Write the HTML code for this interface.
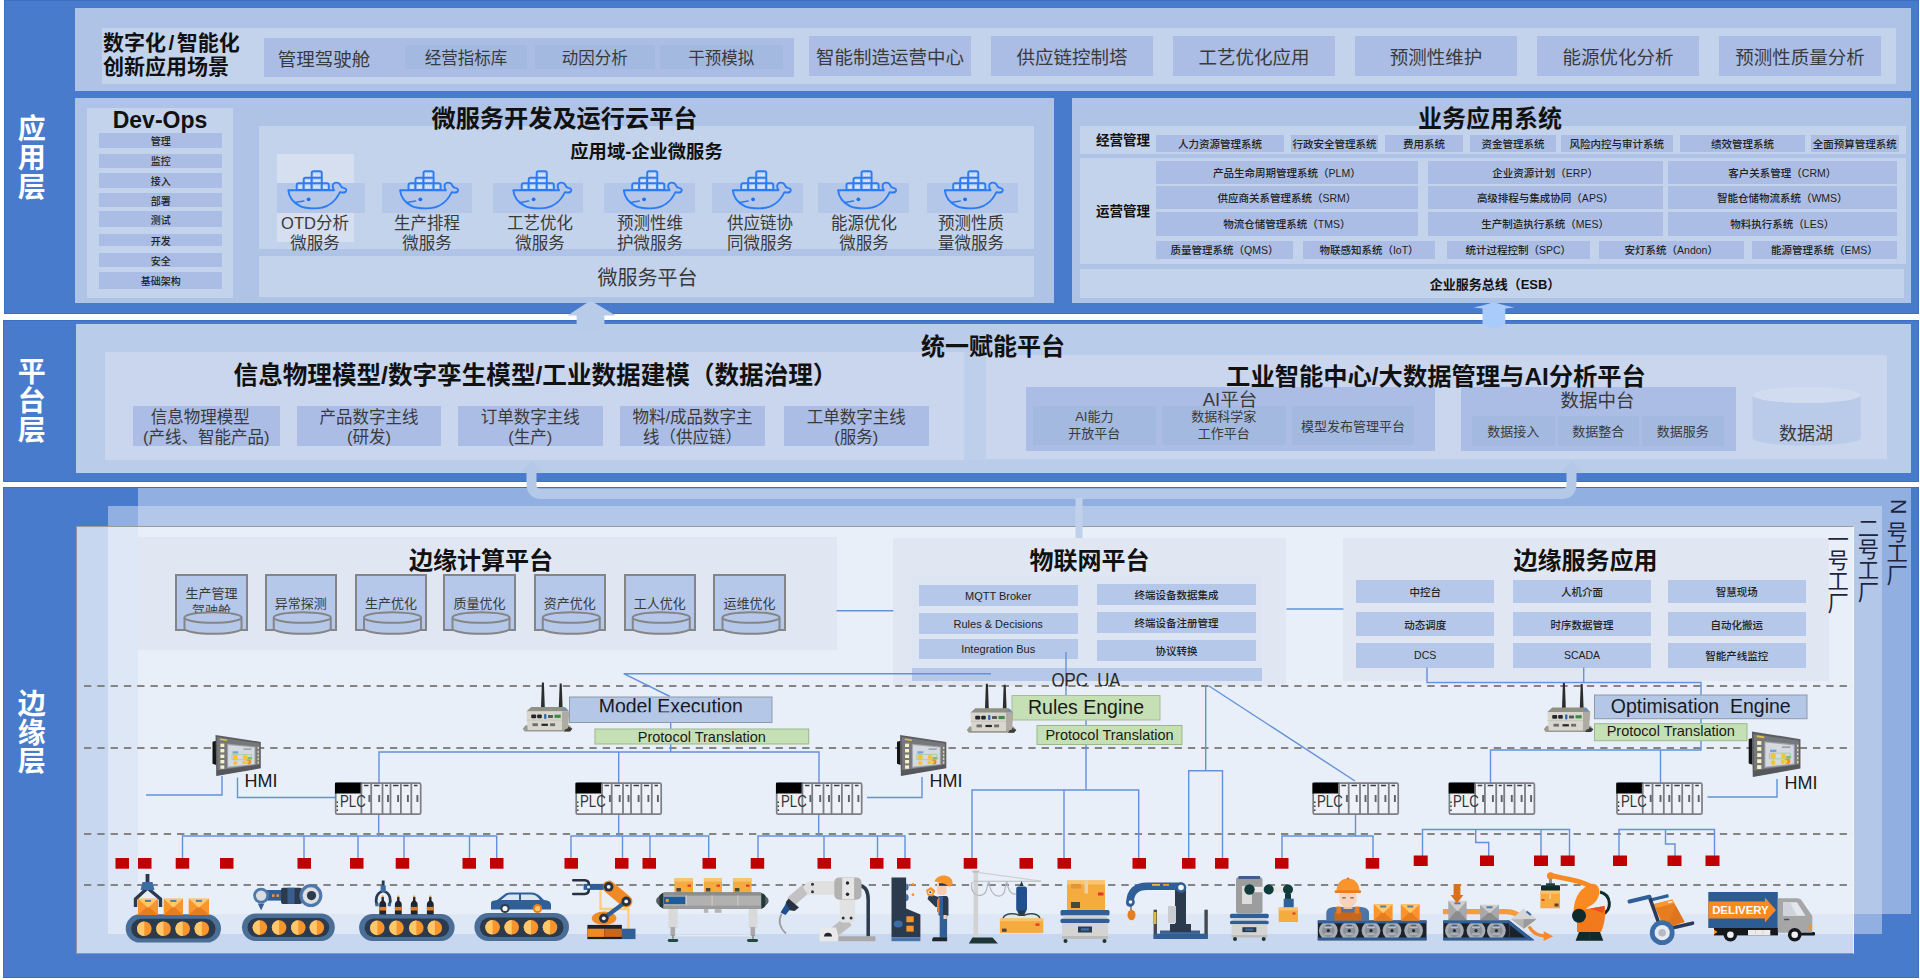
<!DOCTYPE html>
<html lang="zh-CN"><head><meta charset="utf-8"><title>智能制造架构</title>
<style>
html,body{margin:0;padding:0;background:#fff;}
#c{position:relative;width:1920px;height:980px;overflow:hidden;background:#fff;font-family:"Liberation Sans","Noto Sans CJK SC",sans-serif;color:#111;}
#c>div{position:absolute;}
.b{display:flex;align-items:center;justify-content:center;text-align:center;white-space:nowrap;}
.bold{font-weight:700;font-family:"Liberation Sans","Noto Sans CJK SC",sans-serif;}
.g{color:#3a3a3a;}
.sm{color:#222;font-weight:500;}
.en{color:#1a1a1a;}
.vt{writing-mode:vertical-rl;font-size:21.3px;line-height:24px;width:24px;color:#1f2440;white-space:nowrap;}
.plc{font-family:"Liberation Sans",sans-serif;font-size:17px;color:#333;line-height:18px;transform:scaleX(0.78);transform-origin:0 0;}
#ov{position:absolute;left:0;top:0;}
</style></head>
<body><div id="c">
<div style="left:4px;top:0px;width:1915px;height:314.3px;background:#497bcc;box-shadow:inset 0 0 0 1px #3d6ec6;"></div>
<div style="left:3px;top:320.3px;width:1916px;height:162px;background:#497bcc;box-shadow:inset 0 0 0 1px #3d6ec6;"></div>
<div style="left:3px;top:487.1px;width:1916px;height:490.9px;background:#497bcc;box-shadow:inset 0 0 0 1px #3d6ec6;"></div>
<div class="bold" style="left:13.8px;top:114.2px;width:30px;writing-mode:vertical-rl;font-size:28px;line-height:30px;letter-spacing:1.3px;color:#fff;white-space:nowrap;z-index:2;">应用层</div>
<div class="bold" style="left:13.8px;top:357.2px;width:30px;writing-mode:vertical-rl;font-size:28px;line-height:30px;letter-spacing:1.1px;color:#fff;white-space:nowrap;z-index:2;">平台层</div>
<div class="bold" style="left:13.8px;top:689.2px;width:30px;writing-mode:vertical-rl;font-size:28px;line-height:30px;letter-spacing:0.9px;color:#fff;white-space:nowrap;z-index:2;">边缘层</div>
<div style="left:75px;top:8px;width:1836px;height:83px;background:#aec3e5;"></div>
<div style="left:102px;top:28px;width:1794px;height:56px;background:#c3d3ec;"></div>
<div class="bold" style="left:103px;top:31px;width:150px;font-size:21px;line-height:24px;color:#111;">数字化<span style="padding:0 2.5px">/</span>智能化<br>创新应用场景</div>
<div style="left:264px;top:38px;width:530px;height:39px;background:#abbde5;"></div>
<div class="b g" style="left:264px;top:27.5px;width:120px;height:60px;font-size:18.5px;z-index:2;">管理驾驶舱</div>
<div class="b g" style="left:405px;top:45px;width:122px;height:24px;background:#a3b9e0;font-size:16.5px;">经营指标库</div>
<div class="b g" style="left:534.5px;top:45px;width:120.5px;height:24px;background:#a3b9e0;font-size:16.5px;">动因分析</div>
<div class="b g" style="left:660px;top:45px;width:122.5px;height:24px;background:#a3b9e0;font-size:16.5px;">干预模拟</div>
<div class="b g" style="left:809px;top:36px;width:162px;height:40px;background:#abbde5;font-size:18.5px;">智能制造运营中心</div>
<div class="b g" style="left:991px;top:36px;width:162px;height:40px;background:#abbde5;font-size:18.5px;">供应链控制塔</div>
<div class="b g" style="left:1173px;top:36px;width:162px;height:40px;background:#abbde5;font-size:18.5px;">工艺优化应用</div>
<div class="b g" style="left:1355px;top:36px;width:162px;height:40px;background:#abbde5;font-size:18.5px;">预测性维护</div>
<div class="b g" style="left:1537px;top:36px;width:162px;height:40px;background:#abbde5;font-size:18.5px;">能源优化分析</div>
<div class="b g" style="left:1719px;top:36px;width:162px;height:40px;background:#abbde5;font-size:18.5px;">预测性质量分析</div>
<div style="left:75px;top:98px;width:979px;height:205px;background:#aec3e5;"></div>
<div style="left:87px;top:107.5px;width:146px;height:190px;background:#c3d3ec;"></div>
<div class="b bold" style="left:90px;top:90px;width:140px;height:60px;font-size:23px;z-index:2;">Dev-Ops</div>
<div class="b sm" style="left:99.3px;top:132.7px;width:122.7px;height:15px;background:#abbde5;font-size:10px;">管理</div>
<div class="b sm" style="left:99.3px;top:154px;width:122.7px;height:13.5px;background:#abbde5;font-size:10px;">监控</div>
<div class="b sm" style="left:99.3px;top:173px;width:122.7px;height:14.7px;background:#abbde5;font-size:10px;">接入</div>
<div class="b sm" style="left:99.3px;top:192.8px;width:122.7px;height:14.6px;background:#abbde5;font-size:10px;">部署</div>
<div class="b sm" style="left:99.3px;top:211.2px;width:122.7px;height:15.8px;background:#abbde5;font-size:10px;">测试</div>
<div class="b sm" style="left:99.3px;top:233.7px;width:122.7px;height:12.8px;background:#abbde5;font-size:10px;">开发</div>
<div class="b sm" style="left:99.3px;top:253.2px;width:122.7px;height:14.2px;background:#abbde5;font-size:10px;">安全</div>
<div class="b sm" style="left:99.3px;top:272.3px;width:122.7px;height:16.4px;background:#abbde5;font-size:10px;">基础架构</div>
<div class="b bold" style="left:164.5px;top:86.5px;width:800px;height:60px;font-size:24.2px;z-index:2;">微服务开发及运行云平台</div>
<div style="left:259px;top:125.8px;width:775px;height:123.4px;background:#c3d3ec;"></div>
<div class="b bold" style="left:246.5px;top:119.5px;width:800px;height:60px;font-size:18.3px;z-index:2;">应用域-企业微服务</div>
<div style="left:259px;top:255.8px;width:775px;height:41.6px;background:#c3d3ec;"></div>
<div class="b g" style="left:247.5px;top:246.5px;width:800px;height:60px;font-size:20px;z-index:2;">微服务平台</div>
<div style="left:277.2px;top:154px;width:76.8px;height:87.6px;background:#d5dff0;"></div>
<div style="left:276.7px;top:182.7px;width:88.2px;height:30.3px;background:#b4c7e8;"></div>
<div class="b g" style="left:255px;top:213.2px;width:120px;height:40px;font-size:16.5px;line-height:20px;">OTD分析<br>微服务</div>
<div style="left:382.4px;top:182.7px;width:89.6px;height:30.3px;background:#b4c7e8;"></div>
<div class="b g" style="left:367px;top:213.2px;width:120px;height:40px;font-size:16.5px;line-height:20px;">生产排程<br>微服务</div>
<div style="left:492.8px;top:182.7px;width:90.2px;height:30.3px;background:#b4c7e8;"></div>
<div class="b g" style="left:480px;top:213.2px;width:120px;height:40px;font-size:16.5px;line-height:20px;">工艺优化<br>微服务</div>
<div style="left:603.5px;top:182.7px;width:91px;height:30.3px;background:#b4c7e8;"></div>
<div class="b g" style="left:590px;top:213.2px;width:120px;height:40px;font-size:16.5px;line-height:20px;">预测性维<br>护微服务</div>
<div style="left:712.4px;top:182.7px;width:91.1px;height:30.3px;background:#b4c7e8;"></div>
<div class="b g" style="left:700px;top:213.2px;width:120px;height:40px;font-size:16.5px;line-height:20px;">供应链协<br>同微服务</div>
<div style="left:818.2px;top:182.7px;width:90.5px;height:30.3px;background:#b4c7e8;"></div>
<div class="b g" style="left:804px;top:213.2px;width:120px;height:40px;font-size:16.5px;line-height:20px;">能源优化<br>微服务</div>
<div style="left:926.6px;top:182.7px;width:91.3px;height:30.3px;background:#b4c7e8;"></div>
<div class="b g" style="left:911px;top:213.2px;width:120px;height:40px;font-size:16.5px;line-height:20px;">预测性质<br>量微服务</div>
<div style="left:1072px;top:97.5px;width:839px;height:205.5px;background:#aec3e5;"></div>
<div class="b bold" style="left:1090px;top:86.5px;width:800px;height:60px;font-size:24px;z-index:2;">业务应用系统</div>
<div style="left:1080px;top:126.4px;width:826px;height:27.3px;background:#c3d3ec;"></div>
<div class="b bold" style="left:1083px;top:109px;width:80px;height:60px;font-size:13.5px;z-index:2;">经营管理</div>
<div class="b sm" style="left:1156px;top:134.9px;width:128px;height:16.8px;background:#abbde5;font-size:10.5px;">人力资源管理系统</div>
<div class="b sm" style="left:1291px;top:134.9px;width:87px;height:16.8px;background:#abbde5;font-size:10.5px;">行政安全管理系统</div>
<div class="b sm" style="left:1385px;top:134.9px;width:78px;height:16.8px;background:#abbde5;font-size:10.5px;">费用系统</div>
<div class="b sm" style="left:1470px;top:134.9px;width:86px;height:16.8px;background:#abbde5;font-size:10.5px;">资金管理系统</div>
<div class="b sm" style="left:1561px;top:134.9px;width:111.5px;height:16.8px;background:#abbde5;font-size:10.5px;">风险内控与审计系统</div>
<div class="b sm" style="left:1680px;top:134.9px;width:125px;height:16.8px;background:#abbde5;font-size:10.5px;">绩效管理系统</div>
<div class="b sm" style="left:1810.7px;top:134.9px;width:88.3px;height:16.8px;background:#abbde5;font-size:10.5px;">全面预算管理系统</div>
<div style="left:1080px;top:158.4px;width:826px;height:105.6px;background:#c3d3ec;"></div>
<div class="b bold" style="left:1083px;top:180px;width:80px;height:60px;font-size:13.5px;z-index:2;">运营管理</div>
<div class="b sm" style="left:1156px;top:160.6px;width:261.7px;height:23.4px;background:#abbde5;font-size:10.5px;">产品生命周期管理系统（PLM）</div>
<div class="b sm" style="left:1427.7px;top:160.6px;width:234.9px;height:23.4px;background:#abbde5;font-size:10.5px;">企业资源计划（ERP）</div>
<div class="b sm" style="left:1668px;top:160.6px;width:228.6px;height:23.4px;background:#abbde5;font-size:10.5px;">客户关系管理（CRM）</div>
<div class="b sm" style="left:1156px;top:186px;width:261.7px;height:22.5px;background:#abbde5;font-size:10.5px;">供应商关系管理系统（SRM）</div>
<div class="b sm" style="left:1427.7px;top:186px;width:234.9px;height:22.5px;background:#abbde5;font-size:10.5px;">高级排程与集成协同（APS）</div>
<div class="b sm" style="left:1668px;top:186px;width:228.6px;height:22.5px;background:#abbde5;font-size:10.5px;">智能仓储物流系统（WMS）</div>
<div class="b sm" style="left:1156px;top:211.5px;width:261.7px;height:24.1px;background:#abbde5;font-size:10.5px;">物流仓储管理系统（TMS）</div>
<div class="b sm" style="left:1427.7px;top:211.5px;width:234.9px;height:24.1px;background:#abbde5;font-size:10.5px;">生产制造执行系统（MES）</div>
<div class="b sm" style="left:1668px;top:211.5px;width:228.6px;height:24.1px;background:#abbde5;font-size:10.5px;">物料执行系统（LES）</div>
<div class="b sm" style="left:1156px;top:241px;width:137px;height:17.5px;background:#abbde5;font-size:10.5px;">质量管理系统（QMS）</div>
<div class="b sm" style="left:1303px;top:241px;width:132px;height:17.5px;background:#abbde5;font-size:10.5px;">物联感知系统（IoT）</div>
<div class="b sm" style="left:1447px;top:241px;width:142.5px;height:17.5px;background:#abbde5;font-size:10.5px;">统计过程控制（SPC）</div>
<div class="b sm" style="left:1599px;top:241px;width:144.5px;height:17.5px;background:#abbde5;font-size:10.5px;">安灯系统（Andon）</div>
<div class="b sm" style="left:1752px;top:241px;width:144.6px;height:17.5px;background:#abbde5;font-size:10.5px;">能源管理系统（EMS）</div>
<div style="left:1080px;top:268.8px;width:823.5px;height:29px;background:#c3d3ec;"></div>
<div class="b bold" style="left:1095px;top:253.5px;width:800px;height:60px;font-size:13px;z-index:2;">企业服务总线（ESB）</div>
<div style="left:75.5px;top:324px;width:1835.5px;height:148.5px;background:#b9cce9;"></div>
<div class="b bold" style="left:593px;top:314.5px;width:800px;height:60px;font-size:24px;z-index:2;">统一赋能平台</div>
<div style="left:105px;top:351.5px;width:859px;height:108.5px;background:#c9d6ee;"></div>
<div style="left:964px;top:351.5px;width:21.5px;height:108.5px;background:#bdcfea;"></div>
<div style="left:985.5px;top:355px;width:901.5px;height:103.5px;background:#c9d6ee;"></div>
<div class="b bold" style="left:85.5px;top:343px;width:900px;height:60px;font-size:24.6px;z-index:2;">信息物理模型/数字孪生模型/工业数据建模（数据治理）</div>
<div class="b g" style="left:133px;top:406px;width:146.5px;height:40px;background:#abbde5;font-size:16.5px;line-height:20px;padding-top:1.4px;box-sizing:border-box;"><span><span style="position:relative;left:-6px">信息物理模型</span><br>(产线、智能产品)</span></div>
<div class="b g" style="left:297px;top:406px;width:144px;height:40px;background:#abbde5;font-size:16.5px;line-height:20px;padding-top:1.4px;box-sizing:border-box;"><span>产品数字主线<br>(研发)</span></div>
<div class="b g" style="left:457.5px;top:406px;width:145.5px;height:40px;background:#abbde5;font-size:16.5px;line-height:20px;padding-top:1.4px;box-sizing:border-box;"><span>订单数字主线<br>(生产)</span></div>
<div class="b g" style="left:620px;top:406px;width:145px;height:40px;background:#abbde5;font-size:16.5px;line-height:20px;padding-top:1.4px;box-sizing:border-box;"><span>物料/成品数字主<br>线（供应链）</span></div>
<div class="b g" style="left:783.5px;top:406px;width:145.5px;height:40px;background:#abbde5;font-size:16.5px;line-height:20px;padding-top:1.4px;box-sizing:border-box;"><span>工单数字主线<br>(服务)</span></div>
<div class="b bold" style="left:986px;top:344px;width:900px;height:60px;font-size:24.3px;z-index:2;">工业智能中心/大数据管理与AI分析平台</div>
<div style="left:1025.5px;top:386.7px;width:409.5px;height:64px;background:#abbde5;"></div>
<div class="b g" style="left:1130px;top:368px;width:200px;height:60px;font-size:18.5px;z-index:2;">AI平台</div>
<div class="b g" style="left:1033px;top:405.5px;width:122.7px;height:39.5px;background:#a3b9e0;font-size:13px;line-height:17px;">AI能力<br>开放平台</div>
<div class="b g" style="left:1162px;top:405.5px;width:123.7px;height:39.5px;background:#a3b9e0;font-size:13px;line-height:17px;">数据科学家<br>工作平台</div>
<div class="b g" style="left:1292px;top:405.5px;width:122px;height:39.5px;background:#a3b9e0;font-size:13px;">模型发布管理平台</div>
<div style="left:1460.7px;top:386.7px;width:275px;height:64px;background:#abbde5;"></div>
<div class="b g" style="left:1497.5px;top:368.5px;width:200px;height:60px;font-size:18.5px;z-index:2;">数据中台</div>
<div class="b g" style="left:1472px;top:415.5px;width:82.5px;height:30.7px;background:#a3b9e0;font-size:13px;">数据接入</div>
<div class="b g" style="left:1558px;top:415.5px;width:80.7px;height:30.7px;background:#a3b9e0;font-size:13px;">数据整合</div>
<div class="b g" style="left:1642px;top:415.5px;width:81.7px;height:30.7px;background:#a3b9e0;font-size:13px;">数据服务</div>
<div style="left:138px;top:487.5px;width:1773px;height:426px;background:rgba(255,255,255,0.4);"></div>
<div style="left:107.5px;top:505.5px;width:1774.8px;height:428px;background:rgba(255,255,255,0.4);"></div>
<div style="left:138px;top:505.5px;width:1744.3px;height:408px;background:#b3c8e8;"></div>
<div style="left:76px;top:526px;width:1777.6px;height:428px;background:rgba(255,255,255,0.7);border:1px solid #8d96a8;border-top-color:#9a9a9a;border-right-color:rgba(255,255,255,0.5);box-sizing:border-box;"></div>
<div style="left:138px;top:537px;width:698.5px;height:112.5px;background:#e0e7f3;"></div>
<div class="b bold" style="left:81px;top:528px;width:800px;height:60px;font-size:24px;z-index:2;">边缘计算平台</div>
<div class="b g" style="left:175px;top:574.2px;width:73px;height:57px;background:#b5c8e9;border:2px solid #858585;box-sizing:border-box;font-size:13px;line-height:17px;align-items:flex-start;padding-top:9px;">生产管理<br>驾驶舱</div>
<div class="b g" style="left:264.5px;top:574.2px;width:72.5px;height:57px;background:#b5c8e9;border:2px solid #858585;box-sizing:border-box;font-size:13px;">异常探测</div>
<div class="b g" style="left:355px;top:574.2px;width:72px;height:57px;background:#b5c8e9;border:2px solid #858585;box-sizing:border-box;font-size:13px;">生产优化</div>
<div class="b g" style="left:443px;top:574.2px;width:73px;height:57px;background:#b5c8e9;border:2px solid #858585;box-sizing:border-box;font-size:13px;">质量优化</div>
<div class="b g" style="left:534px;top:574.2px;width:71.5px;height:57px;background:#b5c8e9;border:2px solid #858585;box-sizing:border-box;font-size:13px;">资产优化</div>
<div class="b g" style="left:624px;top:574.2px;width:71.5px;height:57px;background:#b5c8e9;border:2px solid #858585;box-sizing:border-box;font-size:13px;">工人优化</div>
<div class="b g" style="left:713px;top:574.2px;width:73px;height:57px;background:#b5c8e9;border:2px solid #858585;box-sizing:border-box;font-size:13px;">运维优化</div>
<div style="left:893.3px;top:537.5px;width:393.2px;height:148px;background:#e0e7f3;"></div>
<div class="b bold" style="left:689.5px;top:528px;width:800px;height:60px;font-size:24px;z-index:2;">物联网平台</div>
<div style="left:912.3px;top:576px;width:350px;height:105px;background:#dde5f3;"></div>
<div class="b sm" style="left:918.7px;top:585px;width:159px;height:21px;background:#b5c8e9;font-size:11px;">MQTT Broker</div>
<div class="b sm" style="left:918.7px;top:613.3px;width:159px;height:20.7px;background:#b5c8e9;font-size:11px;">Rules &amp; Decisions</div>
<div class="b sm" style="left:918.7px;top:639px;width:159px;height:19.8px;background:#b5c8e9;font-size:11px;">Integration Bus</div>
<div class="b sm" style="left:1097px;top:583.5px;width:158.9px;height:21.3px;background:#b5c8e9;font-size:10.5px;">终端设备数据集成</div>
<div class="b sm" style="left:1097px;top:611.8px;width:158.9px;height:21.2px;background:#b5c8e9;font-size:10.5px;">终端设备注册管理</div>
<div class="b sm" style="left:1097px;top:639.8px;width:158.9px;height:21px;background:#b5c8e9;font-size:10.5px;">协议转换</div>
<div style="left:912.3px;top:668px;width:350px;height:12.7px;background:#b5c8e9;"></div>
<div style="left:1343.4px;top:537.8px;width:485.4px;height:143.2px;background:#e0e7f3;"></div>
<div class="b bold" style="left:1185.5px;top:528px;width:800px;height:60px;font-size:24px;z-index:2;">边缘服务应用</div>
<div class="b sm" style="left:1356px;top:580px;width:138.4px;height:22.8px;background:#b5c8e9;font-size:10.5px;">中控台</div>
<div class="b sm" style="left:1513px;top:580px;width:138px;height:22.8px;background:#b5c8e9;font-size:10.5px;">人机介面</div>
<div class="b sm" style="left:1667.5px;top:580px;width:138.5px;height:22.8px;background:#b5c8e9;font-size:10.5px;">智慧现场</div>
<div class="b sm" style="left:1356px;top:612px;width:138.4px;height:24px;background:#b5c8e9;font-size:10.5px;">动态调度</div>
<div class="b sm" style="left:1513px;top:612px;width:138px;height:24px;background:#b5c8e9;font-size:10.5px;">时序数据管理</div>
<div class="b sm" style="left:1667.5px;top:612px;width:138.5px;height:24px;background:#b5c8e9;font-size:10.5px;">自动化搬运</div>
<div class="b sm" style="left:1356px;top:643px;width:138.4px;height:24.5px;background:#b5c8e9;font-size:10.5px;">DCS</div>
<div class="b sm" style="left:1513px;top:643px;width:138px;height:24.5px;background:#b5c8e9;font-size:10.5px;">SCADA</div>
<div class="b sm" style="left:1667.5px;top:643px;width:138.5px;height:24.5px;background:#b5c8e9;font-size:10.5px;">智能产线监控</div>
<svg id="ov" width="1920" height="980" viewBox="0 0 1920 980">
<defs>
<symbol id="docker" viewBox="0 0 60 40" width="60" height="40" overflow="visible">
 <g fill="#c4d5f0" stroke="#2b7cf5" stroke-width="1.9" stroke-linejoin="round">
  <path d="M10.2,20 V15.2 Q10.2,13.3 12,13.3 H17.2 V20Z"/>
  <path d="M17.2,20 V9.6 Q17.2,7.8 19,7.8 H25.2 V20Z"/>
  <path d="M25.2,20 V3 Q25.2,1.2 27,1.2 H33.5 Q35.3,1.2 35.3,3 V20Z"/>
  <path d="M35.3,13.3 H40.5 Q42.3,13.3 42.3,15.2 V20 H35.3Z"/>
  <path d="M17.2,13.3 H35.3 M25.2,7.8 H35.3" fill="none"/>
 </g>
 <g stroke="#e6eefb" stroke-width="1" fill="none">
  <path d="M12.8,15.6V18M14.6,15.6V18M19.6,15.6V18M21.2,15.6V18M22.8,15.6V18M28,15.6V18M30.2,15.6V18M32.4,15.6V18M37.4,15.6V18M39.2,15.6V18"/>
  <path d="M19.6,10V12M21.2,10V12M22.8,10V12M28,10V12M30.2,10V12M32.4,10V12M28,3.6V6M30.2,3.6V6M32.4,3.6V6"/>
 </g>
 <g fill="none" stroke="#2b7cf5" stroke-width="1.9" stroke-linejoin="round" stroke-linecap="round">
  <path d="M1.8,20.2 H47.6 C45.4,17.2 45.8,13.6 48.4,12.8 C51,12.1 53.4,13.2 54,15.6 C54.3,16.9 55.4,17.7 57,17.9 C59,18.1 60.1,19.3 59.7,20.6 C59.1,22.4 56.4,22.9 53.4,22.1 C49.6,30.5 41.5,38.4 28,38.4 C21.5,38.4 17,37.9 13.6,36.2 C7,32.8 2.4,27 1.8,20.2 Z"/>
  <path d="M8.3,32.4 L17.3,31" stroke-width="1.5"/>
 </g>
 <circle cx="22.1" cy="29.3" r="1.9" fill="#1f6fec"/>
</symbol>
<symbol id="plc" viewBox="0 0 86 32" width="86" height="32" overflow="visible">
 <rect x="0.7" y="0.2" width="85" height="31" rx="1.5" fill="#eef2f8" stroke="#7c7e82" stroke-width="1.7"/>
 <rect x="0" y="-0.3" width="26.7" height="10.8" fill="#000"/>
 <path d="M26.4,0.2V31.2M36.2,0.2V31.2M47.5,0.2V31.2M55.5,0.2V31.2M65.9,0.2V31.2M76.3,0.2V31.2" stroke="#7c7e82" stroke-width="1.8" fill="none"/>
 <path d="M29,2.6H33.5M39,2.6H44.5M50,2.6H53M58,2.6H63.5M68.5,2.6H73.5M79,2.6H82.5" stroke="#3a3a3a" stroke-width="1.5" fill="none"/>
 <path d="M34.4,12V19M44.2,12V19M53,12V19M63.1,12V19M72.9,12V19M82.4,12V19" stroke="#5f6267" stroke-width="1.9" fill="none"/>
 <path d="M2.3,18.5v1.6M2.3,22.5v1.6M2.3,26.5v1.6" stroke="#333" stroke-width="1.4"/>
</symbol>
<symbol id="gw" viewBox="0 0 50 50" width="50" height="50" overflow="visible">
 <path d="M19.4,0.3 h2 l0.9,25 h-3.8Z" fill="#2c2c2c"/>
 <path d="M37.2,1.3 h2 l0.9,24 h-3.8Z" fill="#2c2c2c"/>
 <path d="M0.3,46.5 L3,43 H47 L49.8,46.5 L47.5,49.3 H2.2Z" fill="#9b9a90"/>
 <path d="M45,44 l4.8,2.5 l-2.3,2.8 h-6Z" fill="#3c3c38"/>
 <path d="M3.9,29.3 L8.8,24.8 H42.5 L46.8,29.3Z" fill="#8f9285"/>
 <path d="M3.9,29.3 H39.5 V47.6 H5.2Z" fill="#d9d7cd"/>
 <path d="M39.5,29.3 H46.8 L45.6,46 L39.5,47.6Z" fill="#aeaca2"/>
 <path d="M3.9,37.8 H39.5" stroke="#c3c1b6" stroke-width="0.8"/>
 <g fill="#23262b">
  <rect x="8.7" y="32.2" width="5" height="3.8" rx="1"/><rect x="14.7" y="32.2" width="4.6" height="3.8" rx="1"/>
  <rect x="25.5" y="32.6" width="5" height="3" rx="0.6" fill="#55585c"/>
  <rect x="10" y="41" width="5.4" height="2.8" fill="#6a6c70"/><rect x="19" y="41.4" width="6.4" height="2.2"/><rect x="27.6" y="41" width="5" height="2.8" fill="#6a6c70"/>
 </g>
 <rect x="21.6" y="31.6" width="2.3" height="5" rx="0.8" fill="#2b63b5"/>
 <rect x="32" y="32.4" width="6.2" height="3.2" fill="#3f8a4a"/>
 <rect x="41" y="26" width="3" height="2" fill="#5b8ed8"/>
</symbol>
<symbol id="hmi" viewBox="0 0 49 42" preserveAspectRatio="none" overflow="visible">
 <path d="M0,7.2 L3.6,6.3 V30.5 L0,29.3Z" fill="#141414"/>
 <path d="M3,0.4 L48.3,7.4 V33.8 L3.8,41.6Z" fill="#5b5d61"/>
 <path d="M4.6,2.6 L47,8.9 V32.4 L5.2,39.2Z" fill="#76787c"/>
 <path d="M4.2,36 L47.6,30 V33.3 L4.2,41Z" fill="#55575b"/>
 <path d="M14.6,9.2 L43,12 V30.3 L14.6,33.4Z" fill="#9fa3aa"/>
 <path d="M15.6,10.4 L42,13 V29.4 L15.6,32.2Z" fill="#d6d9df"/>
 <g fill="#f6f1c6">
  <rect x="7.9" y="9.1" width="3.9" height="3.4"/><rect x="7.9" y="14.5" width="3.9" height="3.4"/><rect x="7.9" y="20.1" width="3.9" height="3.4"/><rect x="7.9" y="25.5" width="3.9" height="3.4"/><rect x="7.9" y="30.9" width="3.9" height="3.4"/>
 </g>
 <g fill="#e3d98a"><rect x="45" y="12.3" width="1.4" height="2.2"/><rect x="45" y="16.2" width="1.4" height="2.2"/><rect x="45" y="19.8" width="1.4" height="2.2"/><rect x="45" y="23.4" width="1.4" height="2.2"/><rect x="45" y="27" width="1.4" height="2.2"/></g>
 <rect x="7.6" y="4.4" width="7" height="1.7" fill="#e4c530" transform="rotate(8.5 11 5)"/>
 <g>
  <rect x="20" y="16.8" width="5.8" height="2.2" fill="#7aa0d8"/><rect x="31" y="13.8" width="8" height="1.6" fill="#9aa3b0"/>
  <circle cx="22.8" cy="22.6" r="2.5" fill="#f2c438"/><circle cx="32.5" cy="22.6" r="2.3" fill="#f2c438"/><rect x="35" y="22.4" width="4.6" height="2.4" fill="#79c06a"/>
  <circle cx="22.8" cy="28.6" r="2.1" fill="#f2c438"/><circle cx="31.7" cy="27.9" r="1.9" fill="#f2c438"/><circle cx="36.2" cy="27.3" r="2.6" fill="#f08a2a"/><circle cx="34.6" cy="27.6" r="1.7" fill="#f5d23c"/>
  <path d="M19.4,20 H39 V25.2 H19.4Z" fill="none" stroke="#8fc98a" stroke-width="0.6"/>
 </g>
</symbol>
</defs>
<use href="#docker" x="286.5" y="170"/>
<use href="#docker" x="398.3" y="170"/>
<use href="#docker" x="511.5" y="170"/>
<use href="#docker" x="622" y="170"/>
<use href="#docker" x="731" y="170"/>
<use href="#docker" x="836.3" y="170"/>
<use href="#docker" x="943" y="170"/>
<path d="M1752.5,395 V438 A54,7.5 0 0 0 1860.7,438 V395 Z" fill="#b9cbe9"/>
<ellipse cx="1806.6" cy="395" rx="54.1" ry="8" fill="#d2dcf0"/>
<path d="M184.5,617.5 V628.5 A28.5,5.3 0 0 0 241.5,628.5 V617.5" fill="#b5c8e9" stroke="#858585" stroke-width="2"/>
<ellipse cx="213" cy="617.5" rx="28.5" ry="5.3" fill="#b5c8e9" stroke="#858585" stroke-width="2"/>
<path d="M273.75,617.5 V628.5 A28.5,5.3 0 0 0 330.75,628.5 V617.5" fill="#b5c8e9" stroke="#858585" stroke-width="2"/>
<ellipse cx="302.25" cy="617.5" rx="28.5" ry="5.3" fill="#b5c8e9" stroke="#858585" stroke-width="2"/>
<path d="M364,617.5 V628.5 A28.5,5.3 0 0 0 421,628.5 V617.5" fill="#b5c8e9" stroke="#858585" stroke-width="2"/>
<ellipse cx="392.5" cy="617.5" rx="28.5" ry="5.3" fill="#b5c8e9" stroke="#858585" stroke-width="2"/>
<path d="M452.5,617.5 V628.5 A28.5,5.3 0 0 0 509.5,628.5 V617.5" fill="#b5c8e9" stroke="#858585" stroke-width="2"/>
<ellipse cx="481" cy="617.5" rx="28.5" ry="5.3" fill="#b5c8e9" stroke="#858585" stroke-width="2"/>
<path d="M542.75,617.5 V628.5 A28.5,5.3 0 0 0 599.75,628.5 V617.5" fill="#b5c8e9" stroke="#858585" stroke-width="2"/>
<ellipse cx="571.25" cy="617.5" rx="28.5" ry="5.3" fill="#b5c8e9" stroke="#858585" stroke-width="2"/>
<path d="M632.75,617.5 V628.5 A28.5,5.3 0 0 0 689.75,628.5 V617.5" fill="#b5c8e9" stroke="#858585" stroke-width="2"/>
<ellipse cx="661.25" cy="617.5" rx="28.5" ry="5.3" fill="#b5c8e9" stroke="#858585" stroke-width="2"/>
<path d="M722.5,617.5 V628.5 A28.5,5.3 0 0 0 779.5,628.5 V617.5" fill="#b5c8e9" stroke="#858585" stroke-width="2"/>
<ellipse cx="751" cy="617.5" rx="28.5" ry="5.3" fill="#b5c8e9" stroke="#858585" stroke-width="2"/>
<path d="M590.6,300.5 L615.6,315.6 L604.4,315.6 L604.4,330 L576.6,330 L576.6,315.6 L567.5,315.6 Z" fill="#b8cbe9"/>
<path d="M1493.8,302.3 L1505.3,305.6 L1514.5,307.6 L1505.3,308.6 V324.5 L1493.8,328.7 L1482.5,324.5 V308.6 L1473.5,307.6 L1482.5,305.6 Z" fill="#a9cbfb"/>
<path d="M531.5,468 V484 Q531.5,494 541.5,494 H1561.5 Q1571.5,494 1571.5,484 V468" fill="none" stroke="#b4c8e8" stroke-width="10"/>
<path d="M531.5,461 L541,472 L522,472 Z" fill="#b4c8e8"/>
<path d="M1571.5,461 L1581,472 L1562,472 Z" fill="#b4c8e8"/>
<path d="M1079,498 V538" fill="none" stroke="#c0d1ec" stroke-width="7"/>
<path d="M84,686 H1853" stroke="#848484" stroke-width="2" stroke-dasharray="7.3,6" fill="none"/>
<path d="M84,748 H1853" stroke="#848484" stroke-width="2" stroke-dasharray="7.3,6" fill="none"/>
<path d="M84,834 H1853" stroke="#848484" stroke-width="2" stroke-dasharray="7.3,6" fill="none"/>
<path d="M84,885 H1853" stroke="#848484" stroke-width="2" stroke-dasharray="7.3,6" fill="none"/>
<path d="M836.5,610.7 L893.3,610.7" fill="none" stroke="#6391da" stroke-width="1.4"/>
<path d="M1286.5,609 L1343.4,609" fill="none" stroke="#6391da" stroke-width="1.4"/>
<path d="M991,673.7 L623.7,673.7 L670,696.5" fill="none" stroke="#6391da" stroke-width="1.4"/>
<path d="M1066,652 L1066,695.5" fill="none" stroke="#6391da" stroke-width="1.4"/>
<path d="M670.7,722.5 L670.7,729" fill="none" stroke="#6391da" stroke-width="1.4"/>
<path d="M670.7,744 L670.7,752" fill="none" stroke="#6391da" stroke-width="1.4"/>
<path d="M379,783 L379,752 L819,752 L819,783" fill="none" stroke="#6391da" stroke-width="1.4"/>
<path d="M618.7,752 L618.7,783" fill="none" stroke="#6391da" stroke-width="1.4"/>
<path d="M222,776 L222,795 L146,795" fill="none" stroke="#6391da" stroke-width="1.4"/>
<path d="M237.5,777.5 L237.5,797.5 L335,797.5" fill="none" stroke="#6391da" stroke-width="1.4"/>
<path d="M378.7,814 L378.7,836" fill="none" stroke="#6391da" stroke-width="1.4"/>
<path d="M182.5,858 L182.5,836 L496.7,836 L496.7,858" fill="none" stroke="#6391da" stroke-width="1.4"/>
<path d="M304,836 L304,858" fill="none" stroke="#6391da" stroke-width="1.4"/>
<path d="M358,836 L358,858" fill="none" stroke="#6391da" stroke-width="1.4"/>
<path d="M404,836 L404,858" fill="none" stroke="#6391da" stroke-width="1.4"/>
<path d="M469.5,836 L469.5,858" fill="none" stroke="#6391da" stroke-width="1.4"/>
<path d="M618.7,814 L618.7,836" fill="none" stroke="#6391da" stroke-width="1.4"/>
<path d="M571,858 L571,836 L708.7,836 L708.7,858" fill="none" stroke="#6391da" stroke-width="1.4"/>
<path d="M622.5,836 L622.5,858" fill="none" stroke="#6391da" stroke-width="1.4"/>
<path d="M650,836 L650,858" fill="none" stroke="#6391da" stroke-width="1.4"/>
<path d="M818.7,814 L818.7,836" fill="none" stroke="#6391da" stroke-width="1.4"/>
<path d="M758,858 L758,836 L905,836 L905,858" fill="none" stroke="#6391da" stroke-width="1.4"/>
<path d="M824,836 L824,858" fill="none" stroke="#6391da" stroke-width="1.4"/>
<path d="M877.5,836 L877.5,858" fill="none" stroke="#6391da" stroke-width="1.4"/>
<path d="M867,797.5 L922,797.5 L922,777" fill="none" stroke="#6391da" stroke-width="1.4"/>
<path d="M1086,720 L1086,725.5" fill="none" stroke="#6391da" stroke-width="1.4"/>
<path d="M1086,744.5 L1086,790" fill="none" stroke="#6391da" stroke-width="1.4"/>
<path d="M972,858 L972,790 L1138.7,790 L1138.7,858" fill="none" stroke="#6391da" stroke-width="1.4"/>
<path d="M1064,790 L1064,858" fill="none" stroke="#6391da" stroke-width="1.4"/>
<path d="M1205.7,686 L1205.7,770.7" fill="none" stroke="#6391da" stroke-width="1.4"/>
<path d="M1188.7,858 L1188.7,770.7 L1222.5,770.7 L1222.5,858" fill="none" stroke="#6391da" stroke-width="1.4"/>
<path d="M1209,686 L1355,781" fill="none" stroke="#6391da" stroke-width="1.4"/>
<path d="M1355.5,814 L1355.5,836" fill="none" stroke="#6391da" stroke-width="1.4"/>
<path d="M1282,858 L1282,836 L1373,836 L1373,858" fill="none" stroke="#6391da" stroke-width="1.4"/>
<path d="M1427,667.5 L1427,682.5 L1701,682.5 L1701,750 L1490.5,750 L1490.5,783" fill="none" stroke="#6391da" stroke-width="1.4"/>
<path d="M1583.7,667.5 L1583.7,682.5" fill="none" stroke="#6391da" stroke-width="1.4"/>
<path d="M1660.5,750 L1660.5,783" fill="none" stroke="#6391da" stroke-width="1.4"/>
<path d="M1707.5,797 L1777,797 L1777,779" fill="none" stroke="#6391da" stroke-width="1.4"/>
<path d="M1422.5,856 L1422.5,829.5 L1569.5,829.5 L1569.5,856" fill="none" stroke="#6391da" stroke-width="1.4"/>
<path d="M1475.7,829.5 L1475.7,842.5 L1488.7,842.5 L1488.7,856" fill="none" stroke="#6391da" stroke-width="1.4"/>
<path d="M1541,829.5 L1541,856" fill="none" stroke="#6391da" stroke-width="1.4"/>
<path d="M1619,856 L1619,829.5 L1714.5,829.5 L1714.5,856" fill="none" stroke="#6391da" stroke-width="1.4"/>
<path d="M1665.5,829.5 L1665.5,844 L1675,844 L1675,856" fill="none" stroke="#6391da" stroke-width="1.4"/>
<rect x="569.5" y="697" width="202.5" height="25.5" fill="#b4c7e7" stroke="#8f9aa8" stroke-width="1"/>
<rect x="595" y="729" width="213.7" height="15" fill="#c5e0b4" stroke="#9ab98a" stroke-width="1"/>
<rect x="1012" y="695.5" width="148" height="24.5" fill="#c5e0b4" stroke="#a9b99a" stroke-width="1"/>
<rect x="1037" y="725.5" width="145" height="19" fill="#c5e0b4" stroke="#9ab98a" stroke-width="1"/>
<rect x="1594.5" y="695" width="212.5" height="23.7" fill="#b4c7e7" stroke="#8f9aa8" stroke-width="1"/>
<rect x="1594.5" y="723.7" width="152.5" height="17" fill="#c5e0b4" stroke="#9ab98a" stroke-width="1"/>
<rect x="115.5" y="858" width="13.5" height="10.7" fill="#c00000"/>
<rect x="138" y="858" width="13.5" height="10.7" fill="#c00000"/>
<rect x="175.7" y="858" width="13.5" height="10.7" fill="#c00000"/>
<rect x="220" y="858" width="13.5" height="10.7" fill="#c00000"/>
<rect x="297.5" y="858" width="13.5" height="10.7" fill="#c00000"/>
<rect x="350" y="858" width="13.5" height="10.7" fill="#c00000"/>
<rect x="395.7" y="858" width="13.5" height="10.7" fill="#c00000"/>
<rect x="462.5" y="858" width="13.5" height="10.7" fill="#c00000"/>
<rect x="490" y="858" width="13.5" height="10.7" fill="#c00000"/>
<rect x="564.5" y="858" width="13.5" height="10.7" fill="#c00000"/>
<rect x="615" y="858" width="13.5" height="10.7" fill="#c00000"/>
<rect x="642.5" y="858" width="13.5" height="10.7" fill="#c00000"/>
<rect x="702.5" y="858" width="13.5" height="10.7" fill="#c00000"/>
<rect x="750.7" y="858" width="13.5" height="10.7" fill="#c00000"/>
<rect x="817.5" y="858" width="13.5" height="10.7" fill="#c00000"/>
<rect x="870" y="858" width="13.5" height="10.7" fill="#c00000"/>
<rect x="897" y="858" width="13.5" height="10.7" fill="#c00000"/>
<rect x="963.7" y="858" width="13.5" height="10.7" fill="#c00000"/>
<rect x="1019.5" y="858" width="13.5" height="10.7" fill="#c00000"/>
<rect x="1057.5" y="858" width="13.5" height="10.7" fill="#c00000"/>
<rect x="1132.5" y="858" width="13.5" height="10.7" fill="#c00000"/>
<rect x="1182" y="858" width="13.5" height="10.7" fill="#c00000"/>
<rect x="1215" y="858" width="13.5" height="10.7" fill="#c00000"/>
<rect x="1275" y="858" width="13.5" height="10.7" fill="#c00000"/>
<rect x="1365.7" y="858" width="13.5" height="10.7" fill="#c00000"/>
<rect x="1413.7" y="855.5" width="14" height="10.5" fill="#c00000"/>
<rect x="1480" y="855.5" width="14" height="10.5" fill="#c00000"/>
<rect x="1534" y="855.5" width="14" height="10.5" fill="#c00000"/>
<rect x="1560.7" y="855.5" width="14" height="10.5" fill="#c00000"/>
<rect x="1613" y="855.5" width="14" height="10.5" fill="#c00000"/>
<rect x="1667.5" y="855.5" width="14" height="10.5" fill="#c00000"/>
<rect x="1705.5" y="855.5" width="14" height="10.5" fill="#c00000"/>
<use href="#plc" x="335" y="783"/>
<use href="#plc" x="575.5" y="783"/>
<use href="#plc" x="776" y="783"/>
<use href="#plc" x="1312.5" y="783"/>
<use href="#plc" x="1448.7" y="783"/>
<use href="#plc" x="1616.3" y="783"/>
<use href="#gw" x="522.5" y="682.3"/>
<use href="#gw" x="966.5" y="683.5"/>
<use href="#gw" x="1543.5" y="682.8"/>
<use href="#hmi" x="212.5" y="734.5" width="49" height="42"/>
<use href="#hmi" x="897" y="734.5" width="50" height="42"/>
<use href="#hmi" x="1748.7" y="731" width="52.5" height="46.5"/>
<rect x="125.7" y="914.3" width="95.3" height="28.3" rx="14.15" fill="#4b6e96"/>
<rect x="131.2" y="918.8" width="84.3" height="19.8" rx="9.9" fill="#2b3a4d"/>
<circle cx="144.3" cy="928.75" r="7.3" fill="#f9952c"/>
<path d="M144.3,921.45 a7.3,7.3 0 0 0 0,14.6Z" fill="#ffc96b"/>
<circle cx="163.5" cy="928.75" r="7.3" fill="#f9952c"/>
<path d="M163.5,921.45 a7.3,7.3 0 0 0 0,14.6Z" fill="#ffc96b"/>
<circle cx="182.7" cy="928.75" r="7.3" fill="#f9952c"/>
<path d="M182.7,921.45 a7.3,7.3 0 0 0 0,14.6Z" fill="#ffc96b"/>
<circle cx="201.8" cy="928.75" r="7.3" fill="#f9952c"/>
<path d="M201.8,921.45 a7.3,7.3 0 0 0 0,14.6Z" fill="#ffc96b"/>
<rect x="138" y="898.7" width="20" height="16.3" fill="#f9952c"/>
<path d="M138,915 L148,906.04 L158,915 Z" fill="#e87d20"/>
<path d="M138,898.7 L148,907.66 L158,898.7 Z" fill="#ffc96b"/>
<rect x="145" y="899.9" width="6" height="2" fill="#5a7aa8"/>
<rect x="163.7" y="898.7" width="19.3" height="16.3" fill="#f9952c"/>
<path d="M163.7,915 L173.35,906.04 L183,915 Z" fill="#e87d20"/>
<path d="M163.7,898.7 L173.35,907.66 L183,898.7 Z" fill="#ffc96b"/>
<rect x="170.35" y="899.9" width="6" height="2" fill="#5a7aa8"/>
<rect x="188.7" y="898.7" width="20.3" height="16.3" fill="#f9952c"/>
<path d="M188.7,915 L198.85,906.04 L209,915 Z" fill="#e87d20"/>
<path d="M188.7,898.7 L198.85,907.66 L209,898.7 Z" fill="#ffc96b"/>
<rect x="195.85" y="899.9" width="6" height="2" fill="#5a7aa8"/>
<path d="M147.5,888 L135.5,899 V907 M147.5,888 L160.5,899 V907" fill="none" stroke="#2b3a4d" stroke-width="3.4" stroke-linejoin="round"/>
<path d="M145.6,874 h3.8 v10 h-3.8Z" fill="#2b3a4d"/><path d="M142.5,882 h10 l2,8 h-14Z" fill="#3b6ca5"/>
<rect x="242" y="913.6" width="92.8" height="27.4" rx="13.7" fill="#4b6e96"/>
<rect x="247.5" y="918.1" width="81.8" height="18.9" rx="9.45" fill="#2b3a4d"/>
<circle cx="259.9" cy="927.6" r="7.3" fill="#f9952c"/>
<path d="M259.9,920.3 a7.3,7.3 0 0 0 0,14.6Z" fill="#ffc96b"/>
<circle cx="279.1" cy="927.6" r="7.3" fill="#f9952c"/>
<path d="M279.1,920.3 a7.3,7.3 0 0 0 0,14.6Z" fill="#ffc96b"/>
<circle cx="298.3" cy="927.6" r="7.3" fill="#f9952c"/>
<path d="M298.3,920.3 a7.3,7.3 0 0 0 0,14.6Z" fill="#ffc96b"/>
<circle cx="316.8" cy="927.6" r="7.3" fill="#f9952c"/>
<path d="M316.8,920.3 a7.3,7.3 0 0 0 0,14.6Z" fill="#ffc96b"/>
<rect x="262" y="890" width="46" height="10.6" fill="#2f5f96"/>
<rect x="281" y="887.8" width="21" height="16.1" rx="2" fill="#2b3a4d"/><rect x="287.5" y="887.8" width="7" height="16.1" fill="#3a5f8f"/>
<rect x="272" y="894.3" width="2.6" height="2.6" fill="#f9952c"/><rect x="276.4" y="894.3" width="2.6" height="2.6" fill="#f9952c"/>
<path d="M257.8,903.5 h6.6 l-3.3,7Z" fill="#3a5f8f"/>
<circle cx="261.1" cy="895.6" r="7.9" fill="#4d78ab"/><circle cx="261.1" cy="895.6" r="5.2" fill="#d9dce1"/>
<circle cx="310.9" cy="895.6" r="11.5" fill="#4d78ab"/><circle cx="310.9" cy="895.6" r="8.3" fill="#dcdfe4"/><circle cx="311.5" cy="895.6" r="4.6" fill="#2b3a4d"/>
<rect x="359.1" y="914.1" width="95.5" height="26.9" rx="13.45" fill="#4b6e96"/>
<rect x="364.6" y="918.6" width="84.5" height="18.4" rx="9.2" fill="#2b3a4d"/>
<circle cx="377.3" cy="927.85" r="7.3" fill="#f9952c"/>
<path d="M377.3,920.55 a7.3,7.3 0 0 0 0,14.6Z" fill="#ffc96b"/>
<circle cx="396.5" cy="927.85" r="7.3" fill="#f9952c"/>
<path d="M396.5,920.55 a7.3,7.3 0 0 0 0,14.6Z" fill="#ffc96b"/>
<circle cx="416.3" cy="927.85" r="7.3" fill="#f9952c"/>
<path d="M416.3,920.55 a7.3,7.3 0 0 0 0,14.6Z" fill="#ffc96b"/>
<circle cx="434.8" cy="927.85" r="7.3" fill="#f9952c"/>
<path d="M434.8,920.55 a7.3,7.3 0 0 0 0,14.6Z" fill="#ffc96b"/>
<path d="M379.3,914.5 v-10.5 q0,-1.6 1.3,-2.6 l0.9,-0.8 v-3.6 h2.4 v3.6 l0.9,0.8 q1.3,1 1.3,2.6 v10.5Z" fill="#1f2530"/>
<rect x="379.3" y="906.9" width="6.8" height="3.6" fill="#e87d20"/>
<rect x="381.7" y="895.6" width="2" height="1.6" fill="#f9952c"/>
<path d="M394.9,914.5 v-10.5 q0,-1.6 1.3,-2.6 l0.9,-0.8 v-3.6 h2.4 v3.6 l0.9,0.8 q1.3,1 1.3,2.6 v10.5Z" fill="#1f2530"/>
<rect x="394.9" y="906.9" width="6.8" height="3.6" fill="#e87d20"/>
<rect x="397.3" y="895.6" width="2" height="1.6" fill="#f9952c"/>
<path d="M410.8,914.5 v-10.5 q0,-1.6 1.3,-2.6 l0.9,-0.8 v-3.6 h2.4 v3.6 l0.9,0.8 q1.3,1 1.3,2.6 v10.5Z" fill="#1f2530"/>
<rect x="410.8" y="906.9" width="6.8" height="3.6" fill="#e87d20"/>
<rect x="413.2" y="895.6" width="2" height="1.6" fill="#f9952c"/>
<path d="M426.9,914.5 v-10.5 q0,-1.6 1.3,-2.6 l0.9,-0.8 v-3.6 h2.4 v3.6 l0.9,0.8 q1.3,1 1.3,2.6 v10.5Z" fill="#1f2530"/>
<rect x="426.9" y="906.9" width="6.8" height="3.6" fill="#e87d20"/>
<rect x="429.3" y="895.6" width="2" height="1.6" fill="#f9952c"/>
<path d="M383.2,880.5 v9 M383.2,891 c-7.5,2 -8,9 -6.2,14 M383.2,891 c7.5,2 8,9 6.2,14" fill="none" stroke="#2b3a4d" stroke-width="2.8"/>
<rect x="380.6" y="885.5" width="5.2" height="6.5" fill="#3b6ca5"/><rect x="375.4" y="903.3" width="3.2" height="3" fill="#3b6ca5"/><rect x="387.8" y="903.3" width="3.2" height="3" fill="#3b6ca5"/>
<rect x="474.4" y="913" width="94.6" height="28" rx="14" fill="#4b6e96"/>
<rect x="479.9" y="917.5" width="83.6" height="19.5" rx="9.75" fill="#2b3a4d"/>
<circle cx="492.6" cy="927.3" r="7.3" fill="#f9952c"/>
<path d="M492.6,920 a7.3,7.3 0 0 0 0,14.6Z" fill="#ffc96b"/>
<circle cx="511.7" cy="927.3" r="7.3" fill="#f9952c"/>
<path d="M511.7,920 a7.3,7.3 0 0 0 0,14.6Z" fill="#ffc96b"/>
<circle cx="531" cy="927.3" r="7.3" fill="#f9952c"/>
<path d="M531,920 a7.3,7.3 0 0 0 0,14.6Z" fill="#ffc96b"/>
<circle cx="550" cy="927.3" r="7.3" fill="#f9952c"/>
<path d="M550,920 a7.3,7.3 0 0 0 0,14.6Z" fill="#ffc96b"/>
<path d="M491,909.5 V903 C491,901 493,900.5 497,900 L505,894 C507,892.8 509,892.5 512,892.5 H531 C535,892.5 538,894 541,897 L544,900 C549,900.5 551,902 551,905 V909.5 Z" fill="#2f5f96"/>
<path d="M501,900 L507,895.2 C508,894.6 509,894.4 511,894.4 H519 V900Z M521,894.4 H531 C534,894.4 536,895.5 538,897.5 L540,900 H521Z" fill="#dbe6f3"/>
<circle cx="505" cy="908.5" r="4.6" fill="#2b3a4d"/><circle cx="505" cy="908.5" r="2.6" fill="#f2f2f2"/>
<circle cx="537.5" cy="908.5" r="4.6" fill="#e87d20"/><circle cx="537.5" cy="908.5" r="2.6" fill="#ffc96b"/>
<path d="M600.5,890 V909 H628.4 V940" fill="none" stroke="#fcd07a" stroke-width="2.4"/>
<rect x="621.9" y="928.7" width="13.6" height="10.4" fill="#2f5f96"/>
<rect x="587.4" y="924.9" width="34.5" height="14.2" fill="#1d2026"/><rect x="587.4" y="928.7" width="17" height="8.2" fill="#f08a24"/><rect x="604.4" y="928.7" width="17.5" height="8.2" fill="#c8661c"/>
<ellipse cx="604.1" cy="918.3" rx="12.3" ry="6.8" fill="#f08a24"/>
<path d="M608.7,886.8 L626.2,901.4" stroke="#f08a24" stroke-width="12.4" stroke-linecap="round"/>
<path d="M626.2,901.4 L603.8,918.3" stroke="#2f5f96" stroke-width="4.2"/>
<rect x="583.6" y="883.9" width="20" height="6" fill="#2f5f96"/><circle cx="588.5" cy="886.9" r="1.5" fill="#e8edf3"/>
<circle cx="608.7" cy="886.8" r="4.8" fill="#27313f"/><circle cx="608.7" cy="886.8" r="1.9" fill="#eef1f5"/>
<circle cx="626.2" cy="901.4" r="4.8" fill="#27313f"/><circle cx="626.2" cy="901.4" r="1.9" fill="#eef1f5"/>
<circle cx="603.8" cy="918.3" r="4.8" fill="#27313f"/><circle cx="603.8" cy="918.3" r="1.9" fill="#eef1f5"/>
<path d="M573.2,880.2 H584.5 Q589,880.6 588.8,884 M573.2,894 H584.5 Q589,893.6 588.8,890" fill="none" stroke="#27313f" stroke-width="2.5" stroke-linecap="round"/>
<rect x="674.4" y="878.4" width="18.6" height="14.6" fill="#f6ab3f"/>
<rect x="674.4" y="878.4" width="18.6" height="3.21" fill="#f9c46c"/>
<rect x="687.5" y="884.53" width="3.5" height="2.2" fill="#e23a2a"/>
<rect x="676.4" y="888" width="4.5" height="3.5" fill="#4a4a3a"/>
<rect x="703.9" y="878.4" width="18.1" height="14.6" fill="#f6ab3f"/>
<rect x="703.9" y="878.4" width="18.1" height="3.21" fill="#f9c46c"/>
<rect x="716.5" y="884.53" width="3.5" height="2.2" fill="#e23a2a"/>
<rect x="705.9" y="888" width="4.5" height="3.5" fill="#4a4a3a"/>
<rect x="732.9" y="878.4" width="18.6" height="14.6" fill="#f6ab3f"/>
<rect x="732.9" y="878.4" width="18.6" height="3.21" fill="#f9c46c"/>
<rect x="746" y="884.53" width="3.5" height="2.2" fill="#e23a2a"/>
<rect x="734.9" y="888" width="4.5" height="3.5" fill="#4a4a3a"/>
<rect x="668.4" y="907" width="9.3" height="21" fill="#d9d9d9"/><rect x="748.7" y="907" width="8.8" height="21" fill="#d9d9d9"/>
<rect x="670.5" y="927" width="4.6" height="9" fill="#a9a9a9"/><rect x="750.5" y="927" width="4.6" height="9" fill="#a9a9a9"/>
<rect x="672.2" y="935" width="1.6" height="4.5" fill="#8a8a8a"/><rect x="752.2" y="935" width="1.6" height="4.5" fill="#8a8a8a"/>
<rect x="675" y="934.7" width="75.5" height="1.7" fill="#e9e7e1"/>
<rect x="667.8" y="939.1" width="10.4" height="2.9" rx="1.4" fill="#1f4a3c"/><rect x="747.1" y="939.1" width="10.9" height="2.9" rx="1.4" fill="#1f4a3c"/>
<rect x="657.4" y="892.6" width="109.9" height="16.4" rx="8.2" fill="#203a3a"/>
<rect x="663.5" y="892.6" width="97.7" height="16.4" fill="#b1b1b1"/><rect x="663.5" y="892.6" width="97.7" height="3" fill="#8d8d8d"/><rect x="663.5" y="905.6" width="97.7" height="3.4" fill="#9b9b9b"/>
<path d="M659.5,896.5 a5,4.5 0 0 0 0,8.5Z" fill="#5a5f62"/><path d="M765.2,896.5 a5,4.5 0 0 1 0,8.5Z" fill="#5a5f62"/>
<rect x="664" y="896.7" width="21.3" height="7.4" fill="#1f5a9a"/><circle cx="667.3" cy="900.5" r="1.7" fill="#f9952c"/>
<path d="M686.4,895.6V905.6M712.1,895.6V905.6M737.8,895.6V905.6" stroke="#c9c9c9" stroke-width="1.2"/>
<rect x="703.9" y="909" width="4.4" height="3.8" fill="#b5b5b5"/><rect x="714.8" y="909" width="6.6" height="3.8" fill="#b5b5b5"/>
<path d="M868.2,936.5 V900 C868.2,891 866,887 861,886" fill="none" stroke="#2b3a4d" stroke-width="3.5"/>
<rect x="837.3" y="936.3" width="38.1" height="4.9" fill="#a9a9a9"/>
<path d="M848.5,921 L830,935.5" stroke="#bdbdbd" stroke-width="10.5"/>
<path d="M819.5,941.2 V932 C819.5,929 821.5,927.4 824.5,927.4 H836 L838.3,936 V941.2Z" fill="#e9e9e9"/><path d="M824,936.5 a4,3.8 0 0 1 8,0Z" fill="#1f2630"/>
<rect x="839.8" y="897" width="15.3" height="25.5" rx="3" fill="#e2e2e2"/>
<circle cx="843.2" cy="918" r="1.5" fill="#2b3442"/><circle cx="851.1" cy="918" r="1.5" fill="#2b3442"/>
<path d="M806,888.5 L791,901.5" stroke="#c2c2c2" stroke-width="10.5"/>
<path d="M836,880.9 H812 C808,880.9 805,883 803,887.8 L808,894.7 H836Z" fill="#e0e0e0"/>
<circle cx="812.5" cy="884.3" r="1.5" fill="#2b3442"/><circle cx="812.5" cy="891.7" r="1.5" fill="#2b3442"/>
<rect x="834.3" y="877.4" width="27.2" height="22.3" rx="5" fill="#b2b2b2"/><rect x="842.2" y="877.8" width="11.9" height="21.5" fill="#e6e6e6"/>
<circle cx="847.5" cy="883" r="1.7" fill="#20242c"/><circle cx="847.5" cy="894.3" r="1.7" fill="#20242c"/>
<path d="M788.5,898.5 L799,907.5 L794.5,911 L785,909.5 L786,902Z" fill="#27313f"/><path d="M786,903.5 L790,909.5 L785.5,915 L780.5,912.5Z" fill="#1f4f8e"/>
<path d="M781.5,914 C778,921 780,928 786,933.5" fill="none" stroke="#9c9c9c" stroke-width="1.7"/>
<path d="M891.5,877.4 H906.1 V908.4 L920.4,914.5 V937.3 H891.5Z" fill="#2b3a4d"/>
<rect x="891.5" y="937.3" width="28.9" height="3.9" fill="#4b74a8"/>
<rect x="906.4" y="916.3" width="7.3" height="5.9" fill="#f9952c"/><rect x="906.4" y="925.7" width="7.3" height="5.9" fill="#f9952c"/>
<ellipse cx="898.2" cy="923.9" rx="4.5" ry="3.5" fill="#3b6ca5"/><path d="M906.1,883.5 a2.5,3.5 0 0 1 0,7Z M906.1,894 a2.5,3.5 0 0 1 0,7Z" fill="#3b6ca5"/>
<circle cx="913" cy="884.3" r="1.3" fill="#f9952c"/><circle cx="913" cy="894.7" r="1.4" fill="#f9952c"/><circle cx="910.5" cy="885.5" r="0.7" fill="#f9952c"/>
<rect x="939.7" y="915" width="7.4" height="22.5" fill="#2f5f96"/>
<path d="M933.5,937.3 h13.6 v3.9 h-15 c0,-2.2 0.6,-3.4 1.4,-3.9Z" fill="#20242c"/>
<path d="M938.5,896 h7 c2,0 2.8,1.5 2.8,4 v15.5 h-9.8Z" fill="#2f5f96"/><path d="M943,896 h2.5 c2,0 2.8,1.5 2.8,4 v15.5 h-5.3Z" fill="#2b3a4d"/>
<path d="M938.5,897 l-9,-3 l-2,5 l8,8 h4Z" fill="#2b3a4d"/><path d="M937,900 l2.5,-3 v16 l-2.5,-1Z" fill="#e87d20"/>
<path d="M926,890 l5,-3 l4.5,3.5 l-3,6 l-5,-1Z" fill="#f9952c"/><circle cx="930.3" cy="892.3" r="2" fill="#f2f2f2"/><circle cx="930.3" cy="892.3" r="1" fill="#2b3a4d"/>
<rect x="937" y="881" width="9.5" height="14" rx="3.5" fill="#f7cdb4"/><path d="M939,883.2 h10 v2.6 h-10Z" fill="#27313f"/>
<path d="M934.5,881.5 C936,877 941,874.8 946,875.8 C950.5,876.8 953,880 952.5,884 L949.5,887 C947,884 941,882.5 934.5,881.5Z" fill="#f9952c"/>
<rect x="943.5" y="915" width="3.2" height="4" fill="#f7cdb4"/>
<rect x="973.5" y="871" width="4.6" height="67" fill="#d2d2d2"/><rect x="972.4" y="870.6" width="6.8" height="2" fill="#bdbdbd"/>
<path d="M968.8,943.5 L972.5,937.4 H992.5 L997.9,943.5Z" fill="#1d3535"/>
<path d="M977.6,872.3 L1041.2,881.2" stroke="#d0d0d0" stroke-width="1.3"/><path d="M973.5,881.2 H1041" stroke="#b9bdc3" stroke-width="1.1"/>
<path d="M972,882 C970,892 976,897 982,895 C989,893 986,883 989,882 C990,891 994,897 1000,896 C1007,895 1004,884 1007,882 C1008,890 1011,895 1016,894" fill="none" stroke="#aeb3ba" stroke-width="1.1"/>
<path d="M1021.6,881 l2,5 h-4Z" fill="#1d3535"/>
<rect x="1016.2" y="886.5" width="10.8" height="25" rx="2.4" fill="#1f4f8e"/><path d="M1017,910.5 h9.2 l-2.2,5.5 h-4.8Z" fill="#2b3a4d"/>
<path d="M1003,918.5 C1005,912 1016,913.5 1019.5,915.5 M1040,918.5 C1038,912 1027,913.5 1023.5,915.5" fill="none" stroke="#3d4a4a" stroke-width="1.5"/>
<rect x="999.9" y="918.5" width="43.4" height="14.4" fill="#f6ab3f"/><rect x="999.9" y="918.5" width="43.4" height="2.6" fill="#f9c46c"/><rect x="1035.5" y="923.4" width="4" height="2.4" fill="#e23a2a"/><rect x="1002" y="928.6" width="4.6" height="3.2" fill="#4a4a3a"/>
<rect x="1060.5" y="910" width="49" height="5.5" rx="1.5" fill="#2f5f96"/>
<rect x="1063" y="915.5" width="44" height="4" fill="#cfd3d8"/>
<rect x="1060.5" y="918.7" width="49" height="4.3" rx="1.5" fill="#2f5f96"/>
<rect x="1062" y="923" width="46" height="16" fill="#d4d4d4"/>
<rect x="1062" y="936" width="46" height="3" fill="#bcbcbc"/>
<rect x="1078" y="926.5" width="14" height="6" fill="#2b3a4d"/><rect x="1081" y="928.2" width="8" height="2.5" fill="#3b6ca5"/>
<circle cx="1065.5" cy="941" r="2" fill="#1d3535"/><circle cx="1104.5" cy="941" r="2" fill="#1d3535"/>
<rect x="1067" y="880.5" width="38" height="29.5" fill="#f6ab3f"/><rect x="1067" y="880.5" width="38" height="4" fill="#f9c46c"/><rect x="1084.5" y="880.5" width="3.5" height="13" fill="#e9d2a8"/>
<rect x="1098" y="892.5" width="5.5" height="3" fill="#e23a2a"/><rect x="1071" y="902" width="9" height="6" fill="#4a4a3a"/><rect x="1071" y="884" width="10" height="4.5" fill="#e0953a"/>
<rect x="1153.6" y="909.7" width="3.4" height="29" fill="#454a52"/><rect x="1204.4" y="909.7" width="3.4" height="29" fill="#454a52"/>
<rect x="1153.7" y="933.7" width="53.8" height="5.3" fill="#2f5f96"/><rect x="1160" y="930.5" width="40" height="3.4" fill="#3e5f8d"/>
<rect x="1175" y="889" width="11" height="38" fill="#2b3a4d"/><rect x="1170" y="924" width="21" height="8" fill="#2b3a4d"/>
<rect x="1168" y="906" width="8" height="17" fill="#c9ccd1"/><rect x="1154" y="912" width="2.4" height="12" fill="#e3b93c"/>
<path d="M1130,903 C1130,891 1137,886.3 1147,886.3 H1181" fill="none" stroke="#2f5f96" stroke-width="7.6" stroke-linecap="round"/>
<rect x="1152" y="884" width="8" height="1.8" fill="#e3b93c"/><rect x="1163" y="884" width="6" height="1.8" fill="#f9952c"/>
<circle cx="1181" cy="887.5" r="5.3" fill="#2f5f96"/><circle cx="1181" cy="887.5" r="2.8" fill="#f4f6f9"/>
<circle cx="1130.5" cy="902" r="4.3" fill="#2f5f96"/><circle cx="1130.5" cy="902" r="1.8" fill="#f4f6f9"/>
<path d="M1131,906 V910" stroke="#555" stroke-width="1.2"/><ellipse cx="1131.5" cy="915" rx="4" ry="5.3" fill="#e87d20"/><path d="M1129,921 C1129,926 1136,926 1136,922" fill="none" stroke="#e9e9e9" stroke-width="1.5"/>
<rect x="1230" y="913.7" width="38.7" height="4.51" rx="1.5" fill="#2f5f96"/>
<rect x="1232.5" y="918.21" width="33.7" height="3.28" fill="#cfd3d8"/>
<rect x="1230" y="920.83" width="38.7" height="3.53" rx="1.5" fill="#2f5f96"/>
<rect x="1231.5" y="924.36" width="35.7" height="13.12" fill="#d4d4d4"/>
<rect x="1231.5" y="935.02" width="35.7" height="2.46" fill="#bcbcbc"/>
<rect x="1242.35" y="927.23" width="14" height="4.92" fill="#2b3a4d"/><rect x="1245.35" y="928.62" width="8" height="2.05" fill="#3b6ca5"/>
<circle cx="1235" cy="939.12" r="2" fill="#1d3535"/><circle cx="1263.7" cy="939.12" r="2" fill="#1d3535"/>
<rect x="1236" y="877" width="26.5" height="36.7" rx="3" fill="#9d9d9d"/><rect x="1238.5" y="876" width="21.5" height="3" fill="#3e5f8d"/><rect x="1242" y="886" width="10" height="18" fill="#dcdcdc"/>
<path d="M1250,889.5 H1288" stroke="#e8e8e8" stroke-width="5.5"/>
<circle cx="1249.5" cy="889.5" r="5.2" fill="#123c3c"/><circle cx="1268.7" cy="889.5" r="5" fill="#123c3c"/><circle cx="1288" cy="889.5" r="5" fill="#123c3c"/>
<rect x="1285" y="894" width="6" height="5" fill="#123c3c"/><rect x="1283.7" y="898.7" width="10" height="9" fill="#2f5f96"/>
<rect x="1278.7" y="907.5" width="19.3" height="14.5" fill="#f6ab3f"/><rect x="1278.7" y="907.5" width="19.3" height="3" fill="#f9c46c"/><rect x="1292.5" y="912.5" width="3" height="2" fill="#e23a2a"/>
<rect x="1317.8" y="920.5" width="108.7" height="19.8" fill="#1c222c"/>
<circle cx="1328.3" cy="930.6" r="9.4" fill="#a9adb3"/><circle cx="1328.3" cy="930.6" r="6.3" fill="#8c9198"/><circle cx="1328.3" cy="930.6" r="1.6" fill="#1f2a3a"/>
<path d="M1324.3,927.3 h8 M1324.3,934 h8" stroke="#c9ccd1" stroke-width="1.1"/>
<path d="M1325.8,925.5 h5" stroke="#3e5f8d" stroke-width="1.2"/>
<circle cx="1349.3" cy="930.6" r="9.4" fill="#a9adb3"/><circle cx="1349.3" cy="930.6" r="6.3" fill="#8c9198"/><circle cx="1349.3" cy="930.6" r="1.6" fill="#1f2a3a"/>
<path d="M1345.3,927.3 h8 M1345.3,934 h8" stroke="#c9ccd1" stroke-width="1.1"/>
<path d="M1346.8,925.5 h5" stroke="#3e5f8d" stroke-width="1.2"/>
<circle cx="1371" cy="930.6" r="9.4" fill="#a9adb3"/><circle cx="1371" cy="930.6" r="6.3" fill="#8c9198"/><circle cx="1371" cy="930.6" r="1.6" fill="#1f2a3a"/>
<path d="M1367,927.3 h8 M1367,934 h8" stroke="#c9ccd1" stroke-width="1.1"/>
<path d="M1368.5,925.5 h5" stroke="#3e5f8d" stroke-width="1.2"/>
<circle cx="1392" cy="930.6" r="9.4" fill="#a9adb3"/><circle cx="1392" cy="930.6" r="6.3" fill="#8c9198"/><circle cx="1392" cy="930.6" r="1.6" fill="#1f2a3a"/>
<path d="M1388,927.3 h8 M1388,934 h8" stroke="#c9ccd1" stroke-width="1.1"/>
<path d="M1389.5,925.5 h5" stroke="#3e5f8d" stroke-width="1.2"/>
<circle cx="1413.6" cy="930.6" r="9.4" fill="#a9adb3"/><circle cx="1413.6" cy="930.6" r="6.3" fill="#8c9198"/><circle cx="1413.6" cy="930.6" r="1.6" fill="#1f2a3a"/>
<path d="M1409.6,927.3 h8 M1409.6,934 h8" stroke="#c9ccd1" stroke-width="1.1"/>
<path d="M1411.1,925.5 h5" stroke="#3e5f8d" stroke-width="1.2"/>
<rect x="1317.8" y="920.5" width="108.7" height="2.8" fill="#2f5f96"/><rect x="1317.8" y="937.5" width="108.7" height="2.8" fill="#2f5f96"/>
<path d="M1326.3,920.5 V913 C1326.3,909 1330,907 1335,907 H1360 C1365,907 1369,909 1369,913 V920.5Z" fill="#4b74a8"/>
<rect x="1334.4" y="912.4" width="27.1" height="8.1" fill="#c8661c"/><rect x="1336.4" y="906.5" width="4.7" height="7" fill="#e87d20"/><rect x="1354.7" y="906.5" width="4.7" height="7" fill="#e87d20"/>
<rect x="1343.5" y="901" width="9" height="8" fill="#f1bd9a"/><ellipse cx="1348" cy="898.3" rx="9" ry="9.3" fill="#f9d2bb"/>
<path d="M1336.5,892 C1336.5,882.5 1342,878.6 1348,878.6 C1354,878.6 1359.5,882.5 1359.5,892Z" fill="#f9952c"/><rect x="1334.6" y="890.3" width="26.6" height="2.8" rx="1.4" fill="#e87d20"/><rect x="1346.6" y="877.4" width="2.8" height="2.4" rx="1" fill="#e87d20"/>
<rect x="1342.3" y="897.3" width="3.4" height="1.1" fill="#6a4a3a"/><rect x="1350.3" y="897.3" width="3.4" height="1.1" fill="#6a4a3a"/>
<rect x="1373.7" y="904.3" width="18.9" height="16.2" fill="#f9952c"/>
<path d="M1373.7,920.5 L1383.15,911.59 L1392.6,920.5 Z" fill="#e87d20"/>
<path d="M1373.7,904.3 L1383.15,913.21 L1392.6,904.3 Z" fill="#ffc96b"/>
<rect x="1380.15" y="905.5" width="6" height="2" fill="#5a7aa8"/>
<rect x="1400.8" y="904.3" width="18.9" height="16.2" fill="#f9952c"/>
<path d="M1400.8,920.5 L1410.25,911.59 L1419.7,920.5 Z" fill="#e87d20"/>
<path d="M1400.8,904.3 L1410.25,913.21 L1419.7,904.3 Z" fill="#ffc96b"/>
<rect x="1407.25" y="905.5" width="6" height="2" fill="#5a7aa8"/>
<rect x="1443.3" y="920.5" width="65.9" height="19.8" fill="#1c222c"/>
<circle cx="1454.4" cy="930.6" r="9.4" fill="#a9adb3"/><circle cx="1454.4" cy="930.6" r="6.3" fill="#8c9198"/><circle cx="1454.4" cy="930.6" r="1.6" fill="#1f2a3a"/>
<path d="M1450.4,927.3 h8 M1450.4,934 h8" stroke="#c9ccd1" stroke-width="1.1"/>
<path d="M1451.9,925.5 h5" stroke="#3e5f8d" stroke-width="1.2"/>
<circle cx="1476" cy="930.6" r="9.4" fill="#a9adb3"/><circle cx="1476" cy="930.6" r="6.3" fill="#8c9198"/><circle cx="1476" cy="930.6" r="1.6" fill="#1f2a3a"/>
<path d="M1472,927.3 h8 M1472,934 h8" stroke="#c9ccd1" stroke-width="1.1"/>
<path d="M1473.5,925.5 h5" stroke="#3e5f8d" stroke-width="1.2"/>
<circle cx="1496.4" cy="930.6" r="9.4" fill="#a9adb3"/><circle cx="1496.4" cy="930.6" r="6.3" fill="#8c9198"/><circle cx="1496.4" cy="930.6" r="1.6" fill="#1f2a3a"/>
<path d="M1492.4,927.3 h8 M1492.4,934 h8" stroke="#c9ccd1" stroke-width="1.1"/>
<path d="M1493.9,925.5 h5" stroke="#3e5f8d" stroke-width="1.2"/>
<rect x="1443.3" y="920.5" width="65.9" height="2.8" fill="#2f5f96"/><rect x="1443.3" y="937.5" width="65.9" height="2.8" fill="#2f5f96"/>
<path d="M1509.2,920.5 L1534.3,940.3 H1509.2Z" fill="#1c222c"/><path d="M1509.2,920.5 L1534.3,940.3 H1529.3 L1509.2,924.6Z" fill="#2f5f96"/><rect x="1509.2" y="937.5" width="22" height="2.8" fill="#2f5f96"/>
<path d="M1442.9,911.7 H1506 C1514,911.7 1518,914 1522,919" fill="none" stroke="#f99a3c" stroke-width="5.2"/>
<rect x="1448.3" y="900.9" width="18.3" height="19.1" fill="#a8a8a8"/>
<path d="M1448.3,920 L1457.45,909.5 L1466.6,920 Z" fill="#8c8c8c"/>
<path d="M1448.3,900.9 L1457.45,911.4 L1466.6,900.9 Z" fill="#cfcfcf"/>
<rect x="1454.45" y="902.3" width="6" height="2" fill="#5a7aa8"/>
<rect x="1480.1" y="904.9" width="18.9" height="15.1" fill="#a8a8a8"/>
<path d="M1480.1,920 L1489.55,911.69 L1499,920 Z" fill="#8c8c8c"/>
<path d="M1480.1,904.9 L1489.55,913.21 L1499,904.9 Z" fill="#cfcfcf"/>
<rect x="1486.55" y="906.3" width="6" height="2" fill="#5a7aa8"/>
<path d="M1453.6,884 h6.8 v11 h3 l-6.4,8.2 l-6.4,-8.2 h3Z" fill="#d9701e"/>
<path d="M1511.2,919.2 L1523.6,909 L1536.3,919.2 L1523.6,928.8Z" fill="#b3b3b3"/><path d="M1511.2,919.2 L1523.6,909 L1536.3,919.2Z" fill="#d6d6d6"/><path d="M1523.6,919.2 L1536.3,919.2 L1523.6,928.8Z" fill="#9a9a9a"/><rect x="1526" y="912.2" width="5.5" height="2" fill="#3f63a0" transform="rotate(40 1528.7 913.2)"/>
<path d="M1529,926.5 C1532,932 1537,935.8 1545,936" fill="none" stroke="#f58a2c" stroke-width="3.4"/><path d="M1543.7,931.3 L1553.2,936.2 L1543.7,941Z" fill="#f58a2c"/>
<path d="M1600,892 C1612,895 1612,911 1602.6,914" fill="none" stroke="#0f2b2b" stroke-width="3"/>
<path d="M1575.6,940.8 L1579,932 H1600 L1603.3,940.8Z" fill="#0f2b2b"/><path d="M1589.4,932V940.8" stroke="#1e3d3d" stroke-width="0.8"/>
<path d="M1577,932 V914 C1577,910 1581,909.5 1590,908.5 L1604.7,906 C1606,914 1604.5,925 1601,932Z" fill="#f07a1c"/><path d="M1590,908.5 L1604.7,906 L1603,913Z" fill="#e9501c"/>
<path d="M1573.5,914 C1573.5,900 1578,891 1588,885 C1594,882 1599,885 1599.3,891 C1599.5,897 1596,903 1590,906 C1585,908.5 1583,912 1583,917Z" fill="#f98a22"/>
<path d="M1593,888 C1586,882 1572,880 1552,875.8" fill="none" stroke="#f98a22" stroke-width="5" stroke-linecap="round"/>
<circle cx="1579" cy="915.8" r="7" fill="#0f2b2b"/>
<circle cx="1550.5" cy="875.8" r="3.6" fill="#f98a22"/><rect x="1549" y="878.5" width="3" height="7" fill="#8a8f96"/>
<rect x="1541" y="885.3" width="19" height="5.6" rx="1" fill="#0f2b2b"/><rect x="1546" y="883.3" width="9" height="3" fill="#1e3d3d"/>
<rect x="1540.4" y="890.7" width="19.6" height="17.6" fill="#f6ab3f"/><rect x="1540.4" y="890.7" width="19.6" height="3" fill="#f9c46c"/><rect x="1541.5" y="899" width="3" height="1.8" fill="#e23a2a"/><rect x="1554.5" y="903.5" width="4" height="3" fill="#4a4a3a"/><rect x="1549.4" y="893.7" width="1.6" height="5" fill="#e9d2a8"/>
<path d="M1653.4,904.3 L1672.4,899.5 L1684.6,921.9 L1664.3,928.6Z" fill="#e87d20"/><path d="M1653.4,904.3 L1672.4,899.5 L1674.4,903.2 L1655,908.3Z" fill="#f9952c"/><rect x="1668" y="901.3" width="4.5" height="1.6" fill="#f4efe8" transform="rotate(-14 1670 902)"/>
<path d="M1664.3,928.6 L1684.6,921.9 L1676,906 Z" fill="#d9701e" opacity="0.55"/>
<path d="M1651.5,899.8 L1668.5,895.6" stroke="#2f5f96" stroke-width="3.2"/>
<path d="M1649.4,896.8 L1660,926.5 M1661,930.5 L1692.5,923.2" fill="none" stroke="#2b3a5a" stroke-width="3.6" stroke-linecap="round"/>
<path d="M1629.5,901.5 L1649.4,896.8" stroke="#2f5f96" stroke-width="4" stroke-linecap="round"/>
<circle cx="1662.2" cy="932.7" r="12.4" fill="#3b6ca5"/><circle cx="1662.2" cy="932.7" r="7.6" fill="#e6eaf1"/><circle cx="1662.2" cy="932.7" r="3.8" fill="#b3bac5"/>
<rect x="1714" y="927.5" width="64" height="7.9" fill="#15181d"/><rect x="1800" y="932" width="15" height="3.4" rx="1.2" fill="#15181d"/>
<rect x="1708.3" y="892" width="69.5" height="36" fill="#2c5c92"/>
<path d="M1708.3,901.6 H1764.9 V897.5 L1776,910 L1764.9,922.5 V918.5 H1708.3Z" fill="#f98a22"/>
<path d="M1777.8,898.2 H1797 C1799.5,898.2 1801,899.3 1802.3,901.5 L1812.3,916 V932.7 H1777.8Z" fill="#a6a6a6"/><path d="M1783.2,902.2 H1797 L1805.5,915.8 H1783.2Z" fill="#e4e8ee"/><path d="M1783.2,902.2 H1790 L1797,915.8 H1783.2Z" fill="#d0d4da"/>
<rect x="1784" y="918.7" width="5.4" height="1.5" rx="0.7" fill="#4a4f58"/><rect x="1808.8" y="924.8" width="3" height="5" rx="1" fill="#f9952c"/><rect x="1748" y="930" width="22.3" height="5.4" fill="#ecebe7"/><path d="M1755.5,930v5.4M1762.8,930v5.4" stroke="#cfcfca" stroke-width="0.8"/><path d="M1714,929.5 l3.5,2.5 l-3.5,2.5Z" fill="#f9952c"/>
<circle cx="1730.4" cy="934.7" r="6.8" fill="#15181d"/><circle cx="1730.4" cy="934.7" r="3.3" fill="#f0f0f0"/><circle cx="1794.7" cy="934.7" r="6.8" fill="#15181d"/><circle cx="1794.7" cy="934.7" r="3.3" fill="#f0f0f0"/>
<text x="1740.4" y="913.9" text-anchor="middle" font-family="Liberation Sans, sans-serif" font-weight="700" font-size="10.2" fill="#fff" textLength="56.5" lengthAdjust="spacingAndGlyphs">DELIVERY</text></svg>
<div class="b g" style="left:1746px;top:402px;width:120px;height:60px;font-size:18px;z-index:2;">数据湖</div>
<div class="b en" style="left:1026.3px;top:650.2px;width:120px;height:60px;font-size:21px;z-index:2;transform:scaleX(0.8);clip-path:inset(0 0 24.2px 0);color:#2a2a2a;">OPC_UA</div>
<div class="vt" style="left:1823.7px;top:528px;">一号工厂</div>
<div class="vt" style="left:1854px;top:517px;">二号工厂</div>
<div class="vt" style="left:1882.7px;top:499px;"><span style="margin-inline-end:7px;position:relative;left:3.5px">N</span>号工厂</div>
<div class="b en" style="left:569.5px;top:694px;width:202.5px;height:25.5px;font-size:19.5px;clip-path:inset(0 0 7.3px 0);">Model Execution</div>
<div class="b en" style="left:595px;top:729px;width:213.7px;height:15px;font-size:14.5px;">Protocol Translation</div>
<div class="b en" style="left:1012px;top:695.5px;width:148px;height:24.5px;font-size:19.5px;">Rules Engine</div>
<div class="b en" style="left:1037px;top:725.5px;width:145px;height:19px;font-size:14.5px;">Protocol Translation</div>
<div class="b en" style="left:1594.5px;top:695px;width:212.5px;height:23.7px;font-size:19.5px;">Optimisation&nbsp; Engine</div>
<div class="b en" style="left:1594.5px;top:722.7px;width:152.5px;height:17px;font-size:14.5px;">Protocol Translation</div>
<div class="plc" style="left:339.6px;top:793px;">PLC</div>
<div class="plc" style="left:580.1px;top:793px;">PLC</div>
<div class="plc" style="left:780.6px;top:793px;">PLC</div>
<div class="plc" style="left:1317.1px;top:793px;">PLC</div>
<div class="plc" style="left:1453.3px;top:793px;">PLC</div>
<div class="plc" style="left:1620.9px;top:793px;">PLC</div>
<div class="b en" style="left:242.9px;top:771.2px;width:36px;height:20px;font-size:18px;">HMI</div>
<div class="b en" style="left:928px;top:771.2px;width:36px;height:20px;font-size:18px;">HMI</div>
<div class="b en" style="left:1783px;top:773px;width:36px;height:20px;font-size:18px;">HMI</div>
</div></body></html>
